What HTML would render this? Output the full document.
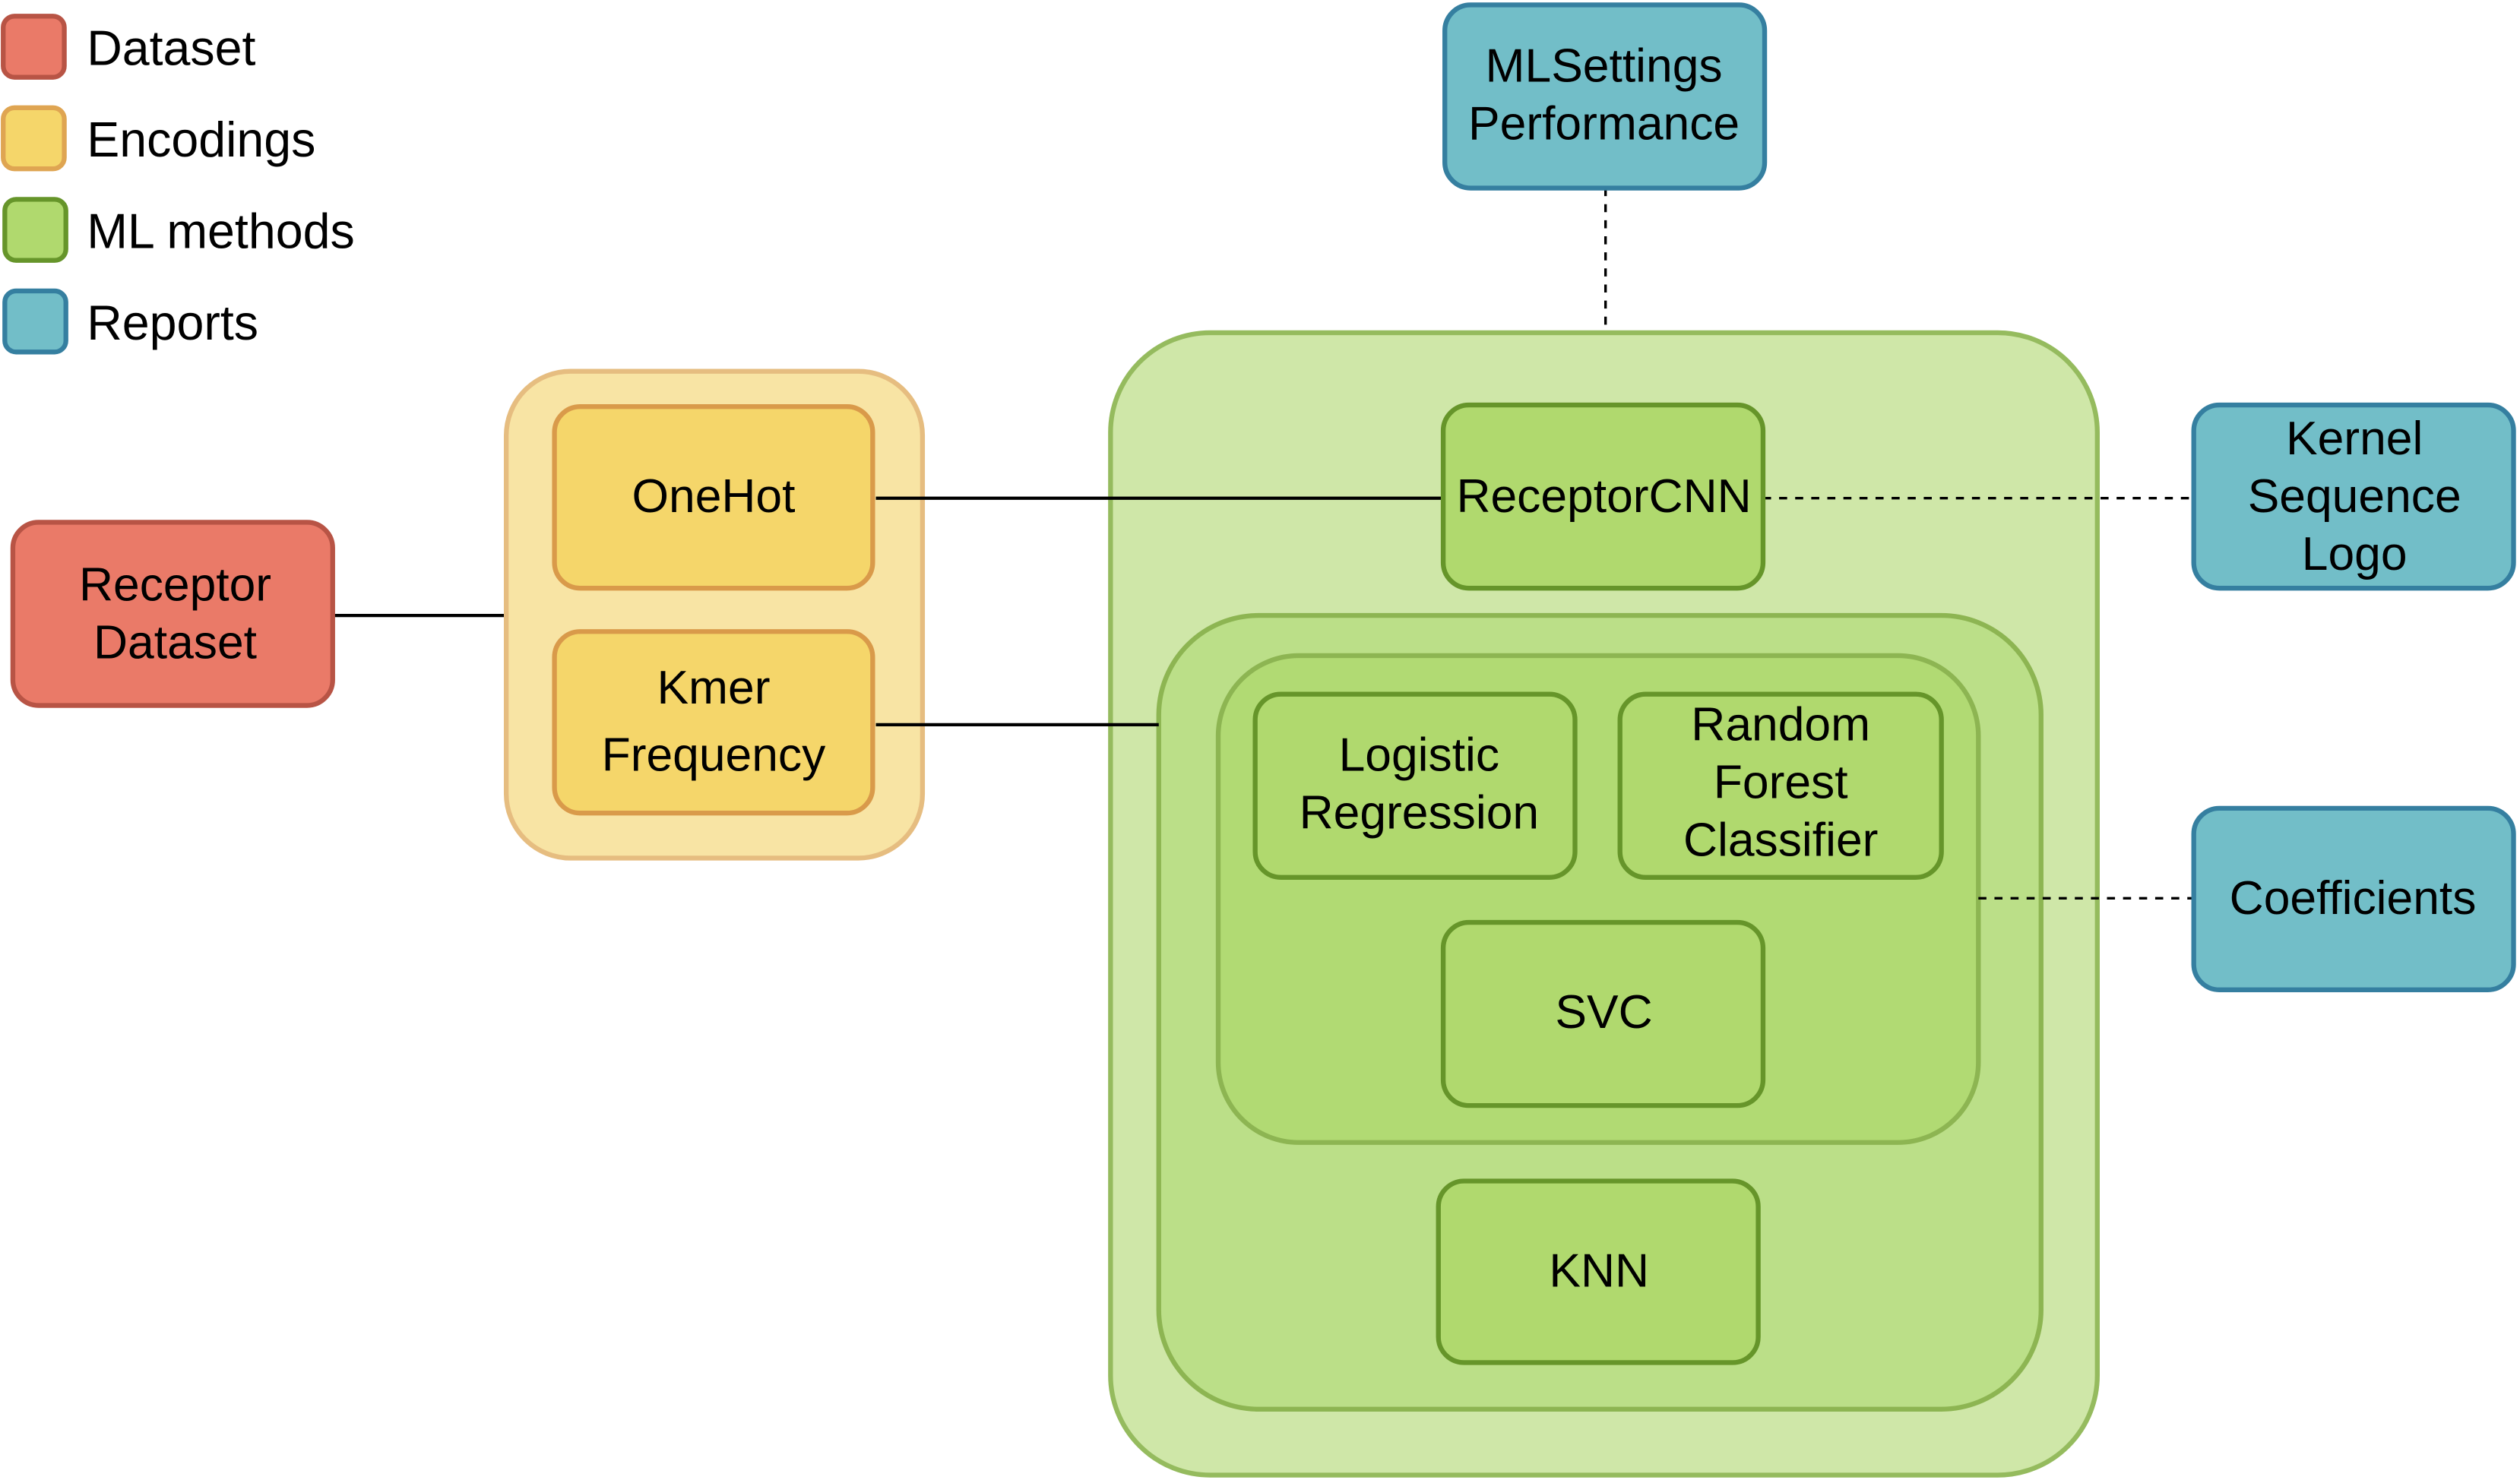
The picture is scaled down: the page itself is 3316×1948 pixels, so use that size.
<!DOCTYPE html>
<html><head><meta charset="utf-8"><style>
html,body{margin:0;padding:0;background:#fff;}
svg{display:block;}
text{font-family:"Liberation Sans",Arial,sans-serif;font-size:29.5px;fill:#000;text-anchor:middle;dominant-baseline:central;}
.l{text-anchor:start;font-size:30.5px;}
</style></head><body>
<svg width="3316" height="1948" viewBox="0 0 1568 921" xmlns="http://www.w3.org/2000/svg">
<!-- legend -->
<rect x="2" y="10" width="38" height="38" rx="7" fill="#ea7a68" stroke="#b85445" stroke-width="3"/>
<rect x="2" y="67" width="38" height="38" rx="7" fill="#f5d66a" stroke="#dfa552" stroke-width="3"/>
<rect x="3" y="124" width="38" height="38" rx="7" fill="#b0d96e" stroke="#66952a" stroke-width="3"/>
<rect x="3" y="181" width="38" height="38" rx="7" fill="#72bec8" stroke="#357fa0" stroke-width="3"/>
<text class="l" x="54" y="30">Dataset</text>
<text class="l" x="54" y="87">Encodings</text>
<text class="l" x="54" y="144">ML methods</text>
<text class="l" x="54" y="201">Reports</text>

<!-- connectors -->
<line x1="207" y1="383" x2="315" y2="383" stroke="#000" stroke-width="2"/>
<line x1="999" y1="117" x2="999" y2="207" stroke="#000" stroke-width="1.6" stroke-dasharray="5,5"/>

<!-- encodings container -->
<rect x="315" y="231" width="259" height="303" rx="40" fill="#f8e4a4" stroke="#e6bd80" stroke-width="3"/>
<rect x="345" y="253" width="198" height="113" rx="16" fill="#f5d66a" stroke="#d99a4a" stroke-width="3"/>
<rect x="345" y="393" width="198" height="113" rx="16" fill="#f5d66a" stroke="#d99a4a" stroke-width="3"/>
<text x="444" y="309">OneHot</text>
<text x="444" y="428">Kmer</text>
<text x="444" y="470">Frequency</text>

<!-- ML containers -->
<rect x="691" y="207" width="614" height="711" rx="62" fill="#cfe7a8" stroke="#95bb5e" stroke-width="3"/>
<rect x="721" y="383" width="549" height="494" rx="62" fill="#bbdf88" stroke="#8db552" stroke-width="3"/>
<rect x="758" y="408" width="473" height="303" rx="50" fill="#b1da73" stroke="#8db552" stroke-width="3"/>

<line x1="545" y1="310" x2="897" y2="310" stroke="#000" stroke-width="2"/>
<line x1="545" y1="451" x2="721" y2="451" stroke="#000" stroke-width="2"/>
<line x1="1097" y1="310" x2="1365" y2="310" stroke="#000" stroke-width="1.6" stroke-dasharray="5,5"/>
<line x1="1231" y1="559" x2="1365" y2="559" stroke="#000" stroke-width="1.6" stroke-dasharray="5,5"/>

<rect x="898" y="252" width="199" height="114" rx="16" fill="#b0d96e" stroke="#66952a" stroke-width="3"/>
<text x="998" y="309">ReceptorCNN</text>
<rect x="781" y="432" width="199" height="114" rx="16" fill="#b0d96e" stroke="#66952a" stroke-width="3"/>
<text x="883" y="470">Logistic</text>
<text x="883" y="506">Regression</text>
<rect x="1008" y="432" width="200" height="114" rx="16" fill="#b0d96e" stroke="#66952a" stroke-width="3"/>
<text x="1108" y="451">Random</text>
<text x="1108" y="487">Forest</text>
<text x="1108" y="523">Classifier</text>
<rect x="898" y="574" width="199" height="114" rx="16" fill="#b0d96e" stroke="#66952a" stroke-width="3"/>
<text x="998" y="630">SVC</text>
<rect x="895" y="735" width="199" height="113" rx="16" fill="#b0d96e" stroke="#66952a" stroke-width="3"/>
<text x="995" y="791">KNN</text>

<!-- reports -->
<rect x="899" y="3" width="199" height="114" rx="16" fill="#72bec8" stroke="#357fa0" stroke-width="3"/>
<text x="998" y="41">MLSettings</text>
<text x="998" y="77">Performance</text>
<rect x="1365" y="252" width="199" height="114" rx="16" fill="#72bec8" stroke="#357fa0" stroke-width="3"/>
<text x="1465" y="273">Kernel</text>
<text x="1465" y="309">Sequence</text>
<text x="1465" y="345">Logo</text>
<rect x="1365" y="503" width="199" height="113" rx="16" fill="#72bec8" stroke="#357fa0" stroke-width="3"/>
<text x="1464" y="559">Coefficients</text>

<!-- dataset -->
<rect x="8" y="325" width="199" height="114" rx="16" fill="#ea7a68" stroke="#b85445" stroke-width="3"/>
<text x="109" y="364">Receptor</text>
<text x="109" y="400">Dataset</text>
</svg>
</body></html>
